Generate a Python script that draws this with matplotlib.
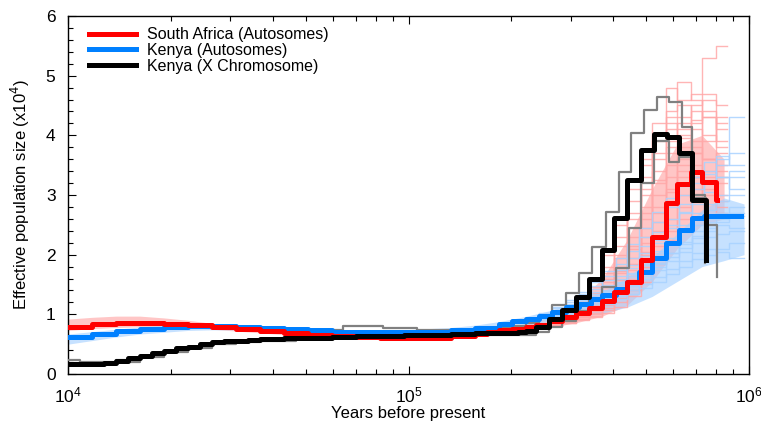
import numpy as np
import matplotlib
matplotlib.use("Agg")
import matplotlib.pyplot as plt
from matplotlib.ticker import LogLocator, MultipleLocator, NullFormatter

plt.rcParams['font.family'] = ['Liberation Sans', 'DejaVu Sans']

# ---- main curves (years before present, Ne in units of 1e4), step 'post' ----
sa_years = [10000, 11760, 13830, 16260, 19130, 22500, 26450, 31110, 36580, 43020,
            50590, 59480, 69940, 82240, 96700, 113700, 133700, 145000, 157200, 170500,
            184900, 201800, 221800, 237400, 259200, 282900, 311000, 339500, 370700,
            401900, 438700, 482500, 519500, 570800, 615000, 675600, 728000, 800400, 806000]
sa_ne = [0.79, 0.83, 0.85, 0.85, 0.84, 0.82, 0.78, 0.75, 0.72, 0.69,
         0.66, 0.64, 0.62, 0.61, 0.60, 0.61, 0.63, 0.64, 0.67, 0.70,
         0.73, 0.76, 0.79, 0.82, 0.88, 0.96, 1.02, 1.10, 1.22,
         1.37, 1.54, 1.91, 2.30, 2.86, 3.19, 3.38, 3.22, 2.91, 2.91]

ke_years = [10000, 11760, 13830, 16260, 19130, 22500, 26450, 31110, 36580, 43020,
            50590, 59480, 69940, 82240, 96700, 113700, 133700, 157200, 184900,
            201800, 221800, 242300, 264500, 290600, 317000, 344100, 370700, 407400,
            438700, 475900, 519500, 570800, 623100, 680500, 738000, 947000]
ke_ne = [0.62, 0.67, 0.72, 0.76, 0.79, 0.81, 0.81, 0.79, 0.77, 0.75,
         0.73, 0.71, 0.70, 0.70, 0.70, 0.71, 0.73, 0.77, 0.84,
         0.88, 0.92, 0.97, 1.04, 1.12, 1.18, 1.25, 1.32, 1.42,
         1.55, 1.71, 1.94, 2.19, 2.41, 2.61, 2.65, 2.65]

kx_years = [10000, 12750, 13830, 15000, 16260, 17640, 19130, 20740, 22500, 24390,
            26450, 28690, 31110, 33740, 36580, 43020, 50590, 59480, 69940, 82240,
            96700, 113700, 133700, 157200, 184900, 209300, 221800, 237400, 259200,
            282900, 311000, 339500, 370700, 401900, 438700, 482500, 526400, 574600,
            623100, 680500, 748000]
kx_ne = [0.17, 0.18, 0.22, 0.26, 0.31, 0.35, 0.39, 0.43, 0.46, 0.50,
         0.53, 0.55, 0.56, 0.57, 0.58, 0.60, 0.61, 0.62, 0.63, 0.64,
         0.65, 0.66, 0.67, 0.68, 0.69, 0.70, 0.72, 0.79, 0.92,
         1.07, 1.29, 1.60, 2.08, 2.61, 3.25, 3.75, 4.02, 3.98,
         3.70, 2.91, 1.91]

# X chromosome grey curves
grey_a_years = [10000, 10840, 13830, 15000, 16260, 17640, 19130, 20740, 22500, 24390,
                26450, 28690, 33740, 39670, 46650, 53720, 64060, 83890, 105600, 133700,
                170500, 201800, 221800, 242300, 264500, 290600, 317000, 346500, 380700,
                415700, 450800, 492100, 537200, 582700, 636000, 680500, 743000]
grey_a_ne = [0.24, 0.20, 0.23, 0.27, 0.31, 0.35, 0.39, 0.43, 0.46, 0.50,
             0.53, 0.55, 0.57, 0.59, 0.61, 0.74, 0.80, 0.77, 0.73, 0.74,
             0.77, 0.80, 0.86, 0.97, 1.15, 1.35, 1.69, 2.13, 2.71,
             3.38, 4.04, 4.42, 4.65, 4.56, 4.14, 3.00, 1.86]

grey_b_years = [10000, 13830, 16260, 19130, 22500, 26450, 31110, 36580, 46650, 59480,
                75840, 96700, 123300, 157200, 184900, 237400, 259200, 282900, 311000,
                339500, 370700, 407400, 444700, 482500, 526400, 582700, 623100, 675600,
                748000, 806000]
grey_b_ne = [0.16, 0.20, 0.29, 0.37, 0.44, 0.50, 0.54, 0.56, 0.58, 0.60,
             0.62, 0.63, 0.64, 0.65, 0.66, 0.70, 0.78, 0.88, 1.05,
             1.25, 1.46, 1.78, 2.45, 3.20, 3.90, 3.55, 3.63, 2.95,
             2.50, 1.62]

# ---- bootstrap envelopes ----
band_years = [10000, 11760, 13830, 16260, 19130, 22500, 26450, 31110, 36580, 43020,
              50590, 59480, 69940, 82240, 96700, 113700, 133700, 157200, 184900,
              218800, 259200, 311000, 370700, 438700, 519500, 615000, 728000, 845000]
sa_lo = [0.73, 0.76, 0.78, 0.79, 0.79, 0.78, 0.75, 0.72, 0.69, 0.66,
         0.63, 0.61, 0.59, 0.58, 0.58, 0.59, 0.60, 0.63, 0.67,
         0.72, 0.78, 0.86, 0.97, 1.15, 1.55, 2.10, 2.50, 2.60]
sa_hi = [0.92, 0.95, 0.97, 0.97, 0.94, 0.90, 0.85, 0.80, 0.76, 0.72,
         0.69, 0.67, 0.65, 0.64, 0.63, 0.64, 0.66, 0.70, 0.75,
         0.84, 0.96, 1.18, 1.60, 2.25, 3.10, 3.85, 4.00, 3.60]

kband_years = band_years + [967000]
ke_lo = [0.50, 0.56, 0.62, 0.67, 0.70, 0.73, 0.74, 0.74, 0.73, 0.71,
         0.69, 0.68, 0.67, 0.67, 0.68, 0.69, 0.71, 0.74, 0.78,
         0.82, 0.88, 0.95, 1.02, 1.12, 1.30, 1.55, 1.80, 1.90, 2.00]
ke_hi = [0.67, 0.71, 0.75, 0.79, 0.82, 0.84, 0.84, 0.82, 0.80, 0.78,
         0.76, 0.74, 0.73, 0.73, 0.74, 0.76, 0.78, 0.82, 0.88,
         0.96, 1.06, 1.20, 1.38, 1.62, 1.95, 2.35, 2.75, 2.95, 2.85]

# ---- bootstrap replicates (late part only) ----
sa_boot_years = [259200, 282900, 311000, 339500, 370700, 401900, 438700, 482500,
                 519500, 570800, 615000, 675600, 728000, 800400, 861500]
sa_boot = [
    [0.95, 1.10, 1.30, 1.60, 2.00, 2.50, 3.10, 3.60, 4.20, 4.80, 4.60, 4.70, 5.30, 5.50, 5.50],
    [0.90, 1.00, 1.20, 1.45, 1.80, 2.30, 2.90, 3.50, 4.00, 4.40, 4.90, 4.60, 4.30, 3.90, 3.90],
    [0.88, 0.95, 1.10, 1.30, 1.60, 2.00, 2.60, 3.10, 3.70, 4.30, 4.50, 4.10, 3.60, 3.20, 3.20],
    [0.85, 0.92, 1.00, 1.15, 1.35, 1.70, 2.10, 2.60, 3.20, 3.80, 4.20, 4.40, 4.00, 3.50, 3.50],
    [0.84, 0.90, 0.98, 1.08, 1.25, 1.50, 1.85, 2.30, 2.80, 3.30, 3.60, 3.90, 4.40, 4.10, 4.10],
    [0.82, 0.88, 0.95, 1.03, 1.15, 1.35, 1.60, 2.00, 2.40, 2.90, 3.30, 3.50, 3.20, 2.80, 2.80],
    [0.80, 0.86, 0.92, 0.98, 1.08, 1.20, 1.40, 1.70, 2.00, 2.40, 2.80, 3.10, 3.30, 3.00, 3.00],
    [0.86, 0.94, 1.05, 1.20, 1.45, 1.80, 2.30, 2.80, 3.40, 3.90, 4.10, 3.80, 3.40, 2.90, 2.90],
    [0.83, 0.90, 0.97, 1.06, 1.20, 1.42, 1.75, 2.20, 2.70, 3.10, 3.50, 3.70, 3.60, 3.30, 3.30],
    [0.80, 0.85, 0.90, 0.95, 1.02, 1.12, 1.30, 1.55, 1.85, 2.25, 2.60, 2.90, 3.10, 3.40, 3.40],
    [0.87, 0.96, 1.10, 1.28, 1.55, 1.95, 2.45, 3.00, 3.60, 4.10, 4.30, 4.50, 4.60, 4.20, 4.20],
    [0.81, 0.87, 0.93, 1.00, 1.10, 1.28, 1.50, 1.80, 2.15, 2.60, 3.00, 3.30, 3.60, 3.70, 3.70],
    [0.89, 0.99, 1.14, 1.36, 1.70, 2.15, 2.70, 3.30, 3.90, 4.20, 4.00, 3.70, 3.90, 4.30, 4.30],
    [0.84, 0.91, 1.00, 1.12, 1.30, 1.58, 1.95, 2.45, 3.00, 3.50, 3.80, 4.20, 4.70, 4.50, 4.50],
    [0.82, 0.88, 0.96, 1.05, 1.18, 1.38, 1.65, 2.05, 2.55, 3.05, 3.40, 3.30, 3.00, 2.70, 2.70],
    [0.86, 0.93, 1.03, 1.18, 1.40, 1.72, 2.15, 2.70, 3.25, 3.70, 3.95, 4.25, 4.30, 3.80, 3.80],
]

ke_boot_years = [242300, 264500, 290600, 317000, 344100, 370700, 407400, 438700,
                 475900, 519500, 570800, 623100, 680500, 738000, 800400, 873600, 967000]
ke_boot = [
    [0.98, 1.06, 1.15, 1.24, 1.34, 1.46, 1.60, 1.78, 1.98, 2.20, 2.45, 2.70, 2.95, 3.20, 3.50, 3.70, 3.70],
    [0.96, 1.02, 1.10, 1.18, 1.27, 1.37, 1.50, 1.65, 1.82, 2.00, 2.20, 2.42, 2.60, 2.75, 2.90, 3.00, 3.00],
    [0.95, 1.00, 1.06, 1.12, 1.20, 1.28, 1.38, 1.50, 1.64, 1.80, 1.96, 2.12, 2.28, 2.40, 2.50, 2.45, 2.45],
    [0.94, 0.98, 1.03, 1.08, 1.14, 1.21, 1.30, 1.40, 1.51, 1.63, 1.76, 1.90, 2.02, 2.10, 2.05, 1.95, 1.95],
    [1.00, 1.08, 1.18, 1.30, 1.43, 1.58, 1.75, 1.95, 2.15, 2.38, 2.60, 2.85, 3.10, 3.35, 3.60, 4.30, 4.30],
    [0.97, 1.04, 1.12, 1.20, 1.30, 1.41, 1.54, 1.70, 1.87, 2.06, 2.28, 2.50, 2.70, 2.85, 3.00, 3.30, 3.30],
    [0.95, 1.01, 1.08, 1.15, 1.23, 1.32, 1.43, 1.56, 1.70, 1.86, 2.03, 2.22, 2.40, 2.55, 2.60, 2.70, 2.70],
    [0.93, 0.97, 1.01, 1.06, 1.11, 1.17, 1.25, 1.34, 1.44, 1.55, 1.67, 1.80, 1.92, 2.00, 2.10, 2.20, 2.20],
    [0.99, 1.07, 1.16, 1.26, 1.37, 1.50, 1.65, 1.82, 2.02, 2.25, 2.50, 2.72, 2.85, 3.05, 3.30, 3.40, 3.40],
    [0.96, 1.03, 1.11, 1.19, 1.28, 1.39, 1.52, 1.67, 1.84, 2.02, 2.20, 2.38, 2.50, 2.60, 2.70, 2.80, 2.80],
    [0.94, 0.99, 1.05, 1.11, 1.18, 1.26, 1.36, 1.48, 1.60, 1.74, 1.90, 2.05, 2.20, 2.30, 2.35, 2.40, 2.40],
    [1.01, 1.10, 1.21, 1.34, 1.48, 1.64, 1.84, 2.06, 2.30, 2.55, 2.80, 3.00, 3.20, 3.40, 3.30, 3.10, 3.10],
    [1.02, 1.12, 1.24, 1.38, 1.54, 1.72, 1.94, 2.18, 2.45, 2.72, 2.95, 3.15, 3.30, 3.55, 3.65, 3.50, 3.50],
    [0.95, 1.00, 1.07, 1.14, 1.22, 1.31, 1.42, 1.55, 1.69, 1.85, 2.02, 2.18, 2.32, 2.45, 2.55, 2.65, 2.65],
]

red = '#ff0000'
blue = '#0080ff'
pink = '#ffa8a8'
lightblue = '#a8d2ff'

fig = plt.figure(figsize=(7.61, 4.24), dpi=100)
ax = fig.add_axes([0.0894, 0.1179, 0.8948, 0.8444])

# envelopes
ax.fill_between(band_years, sa_lo, sa_hi, color=pink, lw=0, alpha=0.65, zorder=1)
ax.fill_between(kband_years, ke_lo, ke_hi, color=lightblue, lw=0, alpha=0.65, zorder=1)

# replicates
for rep in sa_boot:
    ax.step(sa_boot_years, rep, where='post', color=pink, lw=1.0, alpha=0.85, zorder=2)
for rep in ke_boot:
    ax.step(ke_boot_years, rep, where='post', color=lightblue, lw=1.0, alpha=0.85, zorder=2)

# grey X chromosome curves
ax.step(grey_a_years, grey_a_ne, where='post', color='#808080', lw=1.6, zorder=3)
ax.step(grey_b_years, grey_b_ne, where='post', color='#808080', lw=1.6, zorder=3)

# main curves
ax.step(ke_years, ke_ne, where='post', color=blue, lw=3.6, zorder=4,
        label='Kenya (Autosomes)')
ax.step(sa_years, sa_ne, where='post', color=red, lw=3.6, zorder=5,
        label='South Africa (Autosomes)')
ax.step(kx_years, kx_ne, where='post', color='black', lw=3.6, zorder=6,
        label='Kenya (X Chromosome)')

ax.set_xscale('log')
ax.set_xlim(1e4, 1e6)
ax.set_ylim(0, 6)

ax.xaxis.set_major_locator(LogLocator(base=10, numticks=5))
ax.xaxis.set_minor_locator(LogLocator(base=10, subs=np.arange(2, 10), numticks=20))
ax.xaxis.set_minor_formatter(NullFormatter())
ax.yaxis.set_major_locator(MultipleLocator(1))
ax.yaxis.set_minor_locator(MultipleLocator(0.2))

ax.tick_params(which='both', direction='in', top=True, right=False, labelsize=12.5)
ax.tick_params(which='major', length=6, width=0.8)
ax.tick_params(which='minor', length=3.5, width=0.8)
ax.tick_params(axis='x', pad=8)
ax.tick_params(axis='y', pad=9)
for s in ax.spines.values():
    s.set_linewidth(1.0)

ax.set_xlabel('Years before present', fontsize=12, labelpad=1)
ax.set_ylabel('Effective population size (x10$^4$)', fontsize=12, labelpad=10)

handles, labels = ax.get_legend_handles_labels()
order = [1, 0, 2]
ax.legend([handles[i] for i in order], [labels[i] for i in order],
          loc='upper left', frameon=False, fontsize=11.5, handlelength=2.9,
          labelspacing=0.05, borderaxespad=0.3, handletextpad=0.7,
          bbox_to_anchor=(0.015, 1.0))

fig.savefig('out.png', dpi=100)
